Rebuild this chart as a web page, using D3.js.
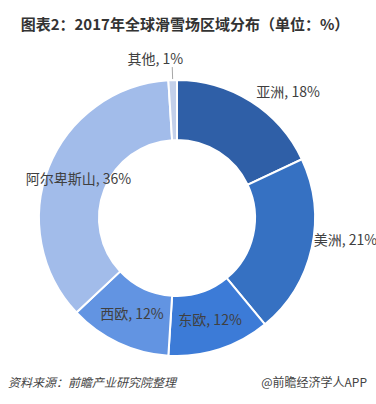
<!DOCTYPE html>
<html>
<head>
<meta charset="utf-8">
<script src="https://cdn.jsdelivr.net/npm/d3@7"></script>
<style>
  body { margin: 0; background: #fff; }
  svg { display: block; font-family: "Noto Sans CJK SC", "Microsoft YaHei", sans-serif; }
</style>
</head>
<body>
<div id="chart"></div>
<script>
// chart data
const regions = ["亚洲", "美洲", "东欧", "西欧", "阿尔卑斯山", "其他"];
const shares = [18, 21, 12, 12, 36, 1];
const colors = ["#2f5fa7", "#3671c2", "#3c7bd7", "#6294e2", "#a2bcea", "#c3d0ea"];

const width = 376, height = 404;
const cx = 177, cy = 218;
const outerR = 138, innerR = 78;

// label placement: radius from centre and angle tweak (degrees)
const labelR = [168, 170, 107, 106, 106, 160];
const labelShift = [9, -5, 0, 0, 0, -6];

const svg = d3.select("#chart")
    .append("svg")
    .attr("width", width)
    .attr("height", height);

// title
svg.append("text")
    .attr("x", 185)
    .attr("y", 30)
    .attr("text-anchor", "middle")
    .attr("font-size", 15)
    .attr("font-weight", "bold")
    .attr("fill", "#333")
    .text("图表2：2017年全球滑雪场区域分布（单位：%）");

const data = regions.map((r, i) => ({region: r, value: shares[i], i: i}));

const pie = d3.pie()
    .value(d => d.value)
    .sort(null);

const arc = d3.arc()
    .innerRadius(innerR)
    .outerRadius(outerR);

const g = svg.append("g")
    .attr("transform", "translate(" + cx + "," + cy + ")");

const arcs = pie(data);

g.selectAll("path")
    .data(arcs)
    .enter()
    .append("path")
    .attr("d", arc)
    .attr("fill", d => colors[d.data.i])
    .attr("stroke", "#fff")
    .attr("stroke-width", 2);

// labels
arcs.forEach(d => {
    const a = (d.startAngle + d.endAngle) / 2 + labelShift[d.data.i] * Math.PI / 180;
    const r = labelR[d.data.i];
    const x = Math.sin(a) * r;
    const y = -Math.cos(a) * r;
    g.append("text")
        .attr("x", x)
        .attr("y", y)
        .attr("dy", "0.35em")
        .attr("text-anchor", "middle")
        .attr("font-size", 14)
        .attr("fill", "#404040")
        .text(d.data.region + ", " + d.data.value + "%");
});

// leader line for the small slice
const small = arcs[arcs.length - 1];
const sa = (small.startAngle + small.endAngle) / 2;
g.append("line")
    .attr("x1", Math.sin(sa) * (outerR + 1))
    .attr("y1", -Math.cos(sa) * (outerR + 1))
    .attr("x2", Math.sin(sa) * (outerR + 13))
    .attr("y2", -Math.cos(sa) * (outerR + 13))
    .attr("stroke", "#a6a6a6")
    .attr("stroke-width", 1);

// footer
svg.append("text")
    .attr("x", 8)
    .attr("y", 387)
    .attr("font-size", 12)
    .attr("font-style", "italic")
    .attr("fill", "#444")
    .text("资料来源：前瞻产业研究院整理");

svg.append("text")
    .attr("x", 367)
    .attr("y", 387)
    .attr("text-anchor", "end")
    .attr("font-size", 12)
    .attr("fill", "#444")
    .text("@前瞻经济学人APP");
</script>
</body>
</html>
